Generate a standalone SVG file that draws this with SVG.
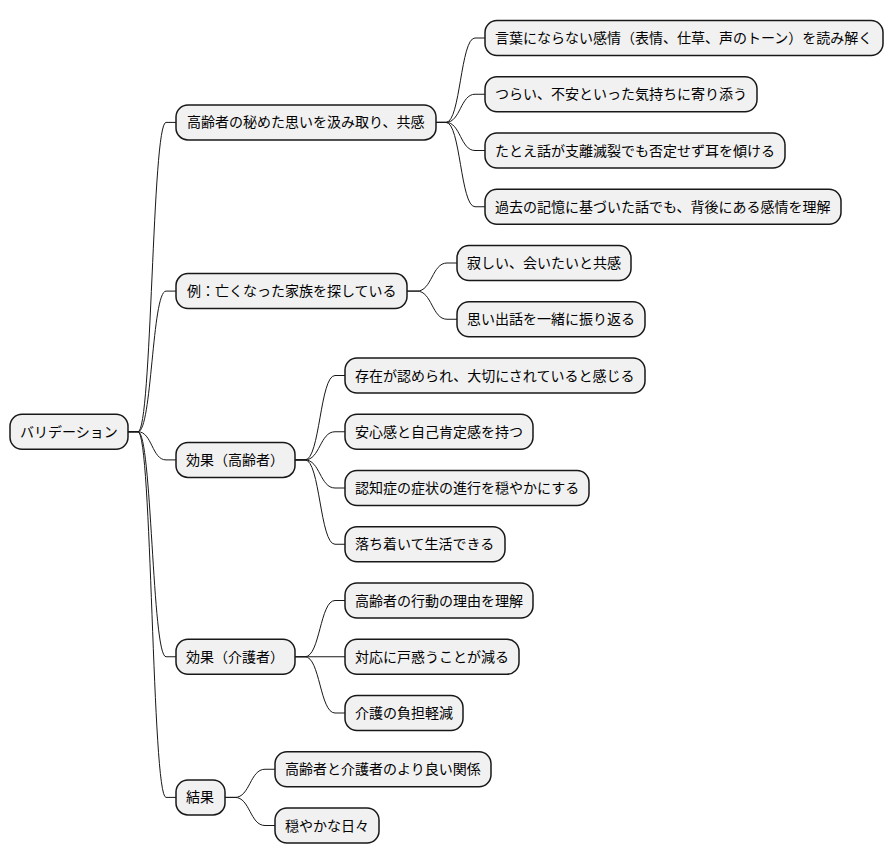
<svg xmlns="http://www.w3.org/2000/svg" width="894" height="865" viewBox="0 0 894 865">
<style>
.n rect{fill:#F1F1F1;stroke:#181818;stroke-width:1.5}
.n text{font-family:"Noto Sans CJK JP","Noto Sans CJK SC",sans-serif;font-size:14px;fill:#000}
.c path{fill:none;stroke:#181818;stroke-width:1}
</style>
<rect width="894" height="865" fill="#FFFFFF"/>
<g class="c" id="connectors">
<path d="M128,431.75 L138,431.75 C152,431.75 152,122.4 166,122.4 L176,122.4"/>
<path d="M128,431.75 L138,431.75 C152,431.75 152,291.1 166,291.1 L176,291.1"/>
<path d="M128,431.75 L138,431.75 C152,431.75 152,459.9 166,459.9 L176,459.9"/>
<path d="M128,431.75 L138,431.75 C152,431.75 152,656.75 166,656.75 L176,656.75"/>
<path d="M128,431.75 L138,431.75 C152,431.75 152,797.4 166,797.4 L176,797.4"/>
<path d="M436,122.4 L446,122.4 C460.5,122.4 460.5,38 475,38 L485,38"/>
<path d="M436,122.4 L446,122.4 C460.5,122.4 460.5,94.25 475,94.25 L485,94.25"/>
<path d="M436,122.4 L446,122.4 C460.5,122.4 460.5,150.5 475,150.5 L485,150.5"/>
<path d="M436,122.4 L446,122.4 C460.5,122.4 460.5,206.75 475,206.75 L485,206.75"/>
<path d="M407,291.1 L417,291.1 C432,291.1 432,263 447,263 L457,263"/>
<path d="M407,291.1 L417,291.1 C432,291.1 432,319.25 447,319.25 L457,319.25"/>
<path d="M295,459.9 L305,459.9 C320,459.9 320,375.5 335,375.5 L345,375.5"/>
<path d="M295,459.9 L305,459.9 C320,459.9 320,431.75 335,431.75 L345,431.75"/>
<path d="M295,459.9 L305,459.9 C320,459.9 320,488 335,488 L345,488"/>
<path d="M295,459.9 L305,459.9 C320,459.9 320,544.25 335,544.25 L345,544.25"/>
<path d="M295,656.75 L305,656.75 C320,656.75 320,600.5 335,600.5 L345,600.5"/>
<path d="M295,656.75 L345,656.75"/>
<path d="M295,656.75 L305,656.75 C320,656.75 320,713 335,713 L345,713"/>
<path d="M225,797.4 L235,797.4 C250,797.4 250,769.25 265,769.25 L275,769.25"/>
<path d="M225,797.4 L235,797.4 C250,797.4 250,825.5 265,825.5 L275,825.5"/>
</g>
<g class="n" id="root"><rect x="10" y="414.25" width="118" height="35" rx="12"/><text x="20" y="436.75">バリデーション</text></g>
<g class="n" id="n1"><rect x="176" y="104.9" width="260" height="35" rx="12"/><text x="187" y="127.4">高齢者の秘めた思いを汲み取り、共感</text></g>
<g class="n" id="n2"><rect x="176" y="273.6" width="231" height="35" rx="12"/><text x="187" y="296.1">例：亡くなった家族を探している</text></g>
<g class="n" id="n3"><rect x="176" y="442.4" width="119" height="35" rx="12"/><text x="186" y="464.9">効果（高齢者）</text></g>
<g class="n" id="n4"><rect x="176" y="639.25" width="119" height="35" rx="12"/><text x="186" y="661.75">効果（介護者）</text></g>
<g class="n" id="n5"><rect x="176" y="779.9" width="49" height="35" rx="12"/><text x="186" y="802.4">結果</text></g>
<g class="n" id="l0"><rect x="485" y="20.5" width="398" height="35" rx="12"/><text x="495" y="43">言葉にならない感情（表情、仕草、声のトーン）を読み解く</text></g>
<g class="n" id="l1"><rect x="485" y="76.75" width="272" height="35" rx="12"/><text x="495" y="99.25">つらい、不安といった気持ちに寄り添う</text></g>
<g class="n" id="l2"><rect x="485" y="133" width="300" height="35" rx="12"/><text x="495" y="155.5">たとえ話が支離滅裂でも否定せず耳を傾ける</text></g>
<g class="n" id="l3"><rect x="485" y="189.25" width="356" height="35" rx="12"/><text x="495" y="211.75">過去の記憶に基づいた話でも、背後にある感情を理解</text></g>
<g class="n" id="l4"><rect x="457" y="245.5" width="174" height="35" rx="12"/><text x="467" y="268">寂しい、会いたいと共感</text></g>
<g class="n" id="l5"><rect x="457" y="301.75" width="188" height="35" rx="12"/><text x="467" y="324.25">思い出話を一緒に振り返る</text></g>
<g class="n" id="l6"><rect x="345" y="358" width="300" height="35" rx="12"/><text x="355" y="380.5">存在が認められ、大切にされていると感じる</text></g>
<g class="n" id="l7"><rect x="345" y="414.25" width="188" height="35" rx="12"/><text x="355" y="436.75">安心感と自己肯定感を持つ</text></g>
<g class="n" id="l8"><rect x="345" y="470.5" width="244" height="35" rx="12"/><text x="355" y="493">認知症の症状の進行を穏やかにする</text></g>
<g class="n" id="l9"><rect x="345" y="526.75" width="160" height="35" rx="12"/><text x="355" y="549.25">落ち着いて生活できる</text></g>
<g class="n" id="l10"><rect x="345" y="583" width="188" height="35" rx="12"/><text x="355" y="605.5">高齢者の行動の理由を理解</text></g>
<g class="n" id="l11"><rect x="345" y="639.25" width="174" height="35" rx="12"/><text x="355" y="661.75">対応に戸惑うことが減る</text></g>
<g class="n" id="l12"><rect x="345" y="695.5" width="118" height="35" rx="12"/><text x="355" y="718">介護の負担軽減</text></g>
<g class="n" id="l13"><rect x="275" y="751.75" width="216" height="35" rx="12"/><text x="285" y="774.25">高齢者と介護者のより良い関係</text></g>
<g class="n" id="l14"><rect x="275" y="808" width="104" height="35" rx="12"/><text x="285" y="830.5">穏やかな日々</text></g>
</svg>
